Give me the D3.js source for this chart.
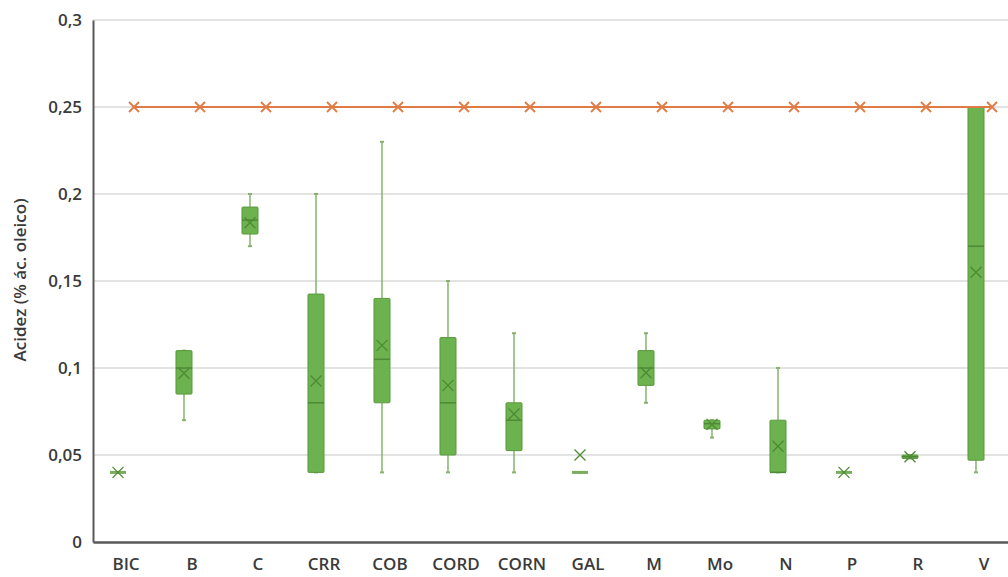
<!DOCTYPE html>
<html>
<head>
<meta charset="utf-8">
<script src="https://cdn.jsdelivr.net/npm/d3@7"></script>
<style>
  body { margin: 0; background: #fff; }
  svg { display: block; }
  svg text { font-family: "Open Sans", sans-serif; }
</style>
</head>
<body>
<div id="chart"></div>
<script>
// categorías y estadísticos
const categories = ["BIC", "B", "C", "CRR", "COB", "CORD", "CORN", "GAL", "M", "Mo", "N", "P", "R", "V"];
const whiskerMin = [0.04, 0.07, 0.17, 0.04, 0.04, 0.04, 0.04, 0.04, 0.08, 0.06, 0.04, 0.04, 0.048, 0.04];
const q1Values   = [0.04, 0.085, 0.177, 0.04, 0.08, 0.05, 0.0525, 0.04, 0.09, 0.065, 0.04, 0.04, 0.048, 0.047];
const medians    = [0.04, 0.10, 0.185, 0.08, 0.105, 0.08, 0.07, 0.04, 0.10, 0.068, 0.04, 0.04, 0.049, 0.17];
const q3Values   = [0.04, 0.11, 0.1925, 0.1425, 0.14, 0.1175, 0.08, 0.04, 0.11, 0.07, 0.07, 0.04, 0.05, 0.25];
const whiskerMax = [0.04, 0.11, 0.20, 0.20, 0.23, 0.15, 0.12, 0.04, 0.12, 0.07, 0.10, 0.04, 0.05, 0.25];
const means      = [0.04, 0.097, 0.1835, 0.0925, 0.113, 0.09, 0.0736, 0.05, 0.0973, 0.0676, 0.055, 0.04, 0.049, 0.155];
const limitValues = [0.25, 0.25, 0.25, 0.25, 0.25, 0.25, 0.25, 0.25, 0.25, 0.25, 0.25, 0.25, 0.25, 0.25];
const yTicks = [0, 0.05, 0.1, 0.15, 0.2, 0.25, 0.3];

const colors = {
    boxFill: "#6cb24e",
    boxStroke: "#5a9a3e",
    whisker: "#86b46c",
    median: "#4e8a34",
    limit: "#e07b45",
    grid: "#e3e3e3",
    axis: "#595959",
    text: "#3a3a3a"
};

const width = 1008, height = 577;
const margin = { top: 20, left: 93, bottom: 35 };
const plotW = 924;
const plotH = height - margin.top - margin.bottom;

const svg = d3.select("#chart").append("svg")
    .attr("width", width).attr("height", height);

const x = d3.scaleBand().domain(categories).range([margin.left, margin.left + plotW]);
const xSub = d3.scaleBand().domain(["acidez", "limite"]).range([0, x.bandwidth()])
    .paddingInner(0).paddingOuter(1.06);
const y = d3.scaleLinear().domain([0, 0.3]).range([margin.top + plotH, margin.top]);

const fmt = v => d3.format("")(+v.toFixed(2)).replace(".", ",");

// rejilla
svg.append("g").selectAll("line")
    .data(yTicks.filter(t => t > 0))
    .enter().append("line")
    .attr("x1", margin.left).attr("x2", width)
    .attr("y1", d => y(d)).attr("y2", d => y(d))
    .attr("stroke", colors.grid).attr("stroke-width", 2);

// eje y
const yAxis = svg.append("g")
    .attr("transform", `translate(${margin.left},0)`)
    .call(d3.axisLeft(y).tickValues(yTicks).tickSize(0).tickPadding(11).tickFormat(fmt));
yAxis.attr("font-family", null);
yAxis.select(".domain").attr("stroke", colors.axis).attr("stroke-width", 2);
yAxis.selectAll("text")
    .attr("fill", colors.text).style("font-size", "17px").style("font-weight", 600);

// eje x
const xAxis = svg.append("g")
    .attr("transform", `translate(0,${y(0)})`)
    .call(d3.axisBottom(x).tickSize(0).tickPadding(16));
xAxis.attr("font-family", null);
xAxis.select(".domain").attr("stroke", colors.axis).attr("stroke-width", 2.5);
xAxis.selectAll("text")
    .attr("fill", colors.text).style("font-size", "17px").style("font-weight", 600);

// título eje y
svg.append("text")
    .attr("transform", "rotate(-90)")
    .attr("x", -280)
    .attr("y", 26)
    .attr("text-anchor", "middle")
    .attr("fill", colors.text)
    .style("font-size", "17px")
    .style("font-weight", 600)
    .text("Acidez (% ác. oleico)");

const boxes = categories.map((c, i) => ({
    cat: c, min: whiskerMin[i], q1: q1Values[i], med: medians[i],
    q3: q3Values[i], max: whiskerMax[i], mean: means[i]
}));

const bw = xSub.bandwidth();
const cx = d => x(d.cat) + xSub("acidez") + bw / 2;

const g = svg.append("g");

// bigotes
g.selectAll(".whisker-up").data(boxes).enter().append("line")
    .attr("x1", cx).attr("x2", cx)
    .attr("y1", d => y(d.q3)).attr("y2", d => y(d.max))
    .attr("stroke", colors.whisker).attr("stroke-width", 1.5);
g.selectAll(".whisker-down").data(boxes).enter().append("line")
    .attr("x1", cx).attr("x2", cx)
    .attr("y1", d => y(d.q1)).attr("y2", d => y(d.min))
    .attr("stroke", colors.whisker).attr("stroke-width", 1.5);
g.selectAll(".cap").data(boxes.flatMap(d => [{ cat: d.cat, v: d.min }, { cat: d.cat, v: d.max }]))
    .enter().append("line")
    .attr("x1", d => cx(d) - 2).attr("x2", d => cx(d) + 2)
    .attr("y1", d => y(d.v)).attr("y2", d => y(d.v))
    .attr("stroke", colors.whisker).attr("stroke-width", 2);

// cajas
g.selectAll(".box").data(boxes).enter().append("rect")
    .attr("x", d => cx(d) - bw / 2)
    .attr("width", bw)
    .attr("y", d => y(d.q3))
    .attr("height", d => Math.max(0, y(d.q1) - y(d.q3)))
    .attr("rx", 1)
    .attr("fill", colors.boxFill)
    .attr("stroke", colors.boxStroke)
    .attr("stroke-width", 1);

// mediana (más gruesa cuando la caja está colapsada)
g.selectAll(".median").data(boxes).enter().append("line")
    .attr("x1", d => cx(d) - bw / 2).attr("x2", d => cx(d) + bw / 2)
    .attr("y1", d => y(d.med)).attr("y2", d => y(d.med))
    .attr("stroke", d => d.q1 === d.q3 ? "#79ad5c" : colors.median)
    .attr("stroke-width", d => d.q1 === d.q3 ? 3 : 1.5);

// media (x)
const cross = (sel, px, py, s, color, w) => {
    sel.append("path")
        .attr("d", d => {
            const X = px(d), Y = py(d);
            return `M${X - s},${Y - s}L${X + s},${Y + s}M${X - s},${Y + s}L${X + s},${Y - s}`;
        })
        .attr("fill", "none").attr("stroke", color).attr("stroke-width", w);
};
cross(g.selectAll(".mean").data(boxes).enter().append("g"), cx, d => y(d.mean), 5.5, colors.median, 1.3);

// límite 0,25
const limitData = categories.map((c, i) => ({ cat: c, v: limitValues[i] }));
const lx = d => x(d.cat) + xSub("limite") + bw / 2;
svg.append("path")
    .datum(limitData)
    .attr("fill", "none")
    .attr("stroke", colors.limit)
    .attr("stroke-width", 2)
    .attr("d", d3.line().x(lx).y(d => y(d.v)));
cross(svg.selectAll(".limit").data(limitData).enter().append("g"), lx, d => y(d.v), 5, colors.limit, 1.8);
</script>
</body>
</html>
